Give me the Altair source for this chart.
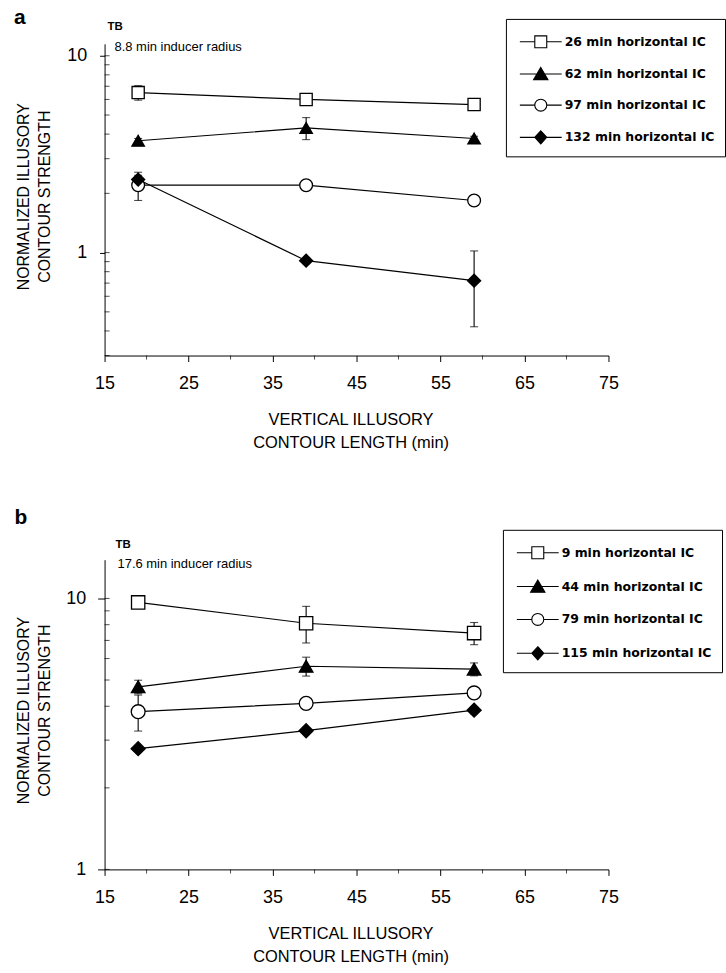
import altair as alt
import pandas as pd

# ---------------- data ----------------
x_len = [19, 39, 59]

a_names = ["26 min horizontal IC", "62 min horizontal IC", "97 min horizontal IC", "132 min horizontal IC"]
a_26 = [6.5, 6.0, 5.65]
a_62 = [3.7, 4.3, 3.8]
a_97 = [2.2, 2.2, 1.84]
a_132 = [2.35, 0.91, 0.72]
a_26_err = [0.55, 0.15, 0.3]
a_62_err = [0.1, 0.55, 0.1]
a_97_err = [0.36, 0.12, 0.1]
a_132_err = [0.12, 0.03, 0.3]

b_names = ["9 min horizontal IC", "44 min horizontal IC", "79 min horizontal IC", "115 min horizontal IC"]
b_9 = [9.67, 8.1, 7.45]
b_44 = [4.72, 5.62, 5.48]
b_79 = [3.82, 4.1, 4.48]
b_115 = [2.79, 3.25, 3.87]
b_9_err = [0.1, 1.25, 0.7]
b_44_err = [0.27, 0.45, 0.3]
b_79_err = [0.58, 0.2, 0.2]
b_115_err = [0.05, 0.05, 0.12]

x_ticks_major = [15, 25, 35, 45, 55, 65, 75]
x_ticks_minor = [20, 30, 40, 50, 60, 70]
a_y_major = [1, 10]
a_y_minor = [0.3, 0.4, 0.5, 0.6, 0.7, 0.8, 0.9, 1, 2, 3, 4, 5, 6, 7, 8, 9, 10]
b_y_major = [1, 10]
b_y_minor = [1, 2, 3, 4, 5, 6, 7, 8, 9, 10]

x_title = ["VERTICAL ILLUSORY", "CONTOUR LENGTH  (min)"]
y_title = ["NORMALIZED ILLUSORY", "CONTOUR STRENGTH"]
a_notes = ["a", "TB", "8.8 min inducer radius"]
b_notes = ["b", "TB", "17.6 min inducer radius"]

shapes = ["square", "triangle-up", "circle", "diamond"]
fills = ["white", "black", "white", "black"]
strokes = ["black", "black", "black", "black"]
sizes = [150, 200, 165, 160]
legend_paths = [
    "M-1.75,0H-0.5M0.5,0H1.75M-0.5,-0.5H0.5V0.5H-0.5Z",
    "M-1.75,0H1.75M0,-0.55L0.6,0.47L-0.6,0.47Z",
    "M-1.75,0H-0.5M0.5,0H1.75M-0.5,0A0.5,0.5,0,1,0,0.5,0A0.5,0.5,0,1,0,-0.5,0Z",
    "M-1.75,0H1.75M0,-0.55L0.5,0L0,0.55L-0.5,0Z",
]


def frame(names, vals, errs):
    rows = []
    for n, v, e in zip(names, vals, errs):
        for xi, vi, ei in zip(x_len, v, e):
            rows.append({"series": n, "x": xi, "y": vi, "lo": vi - ei, "hi": vi + ei})
    return pd.DataFrame(rows)


df_a = frame(a_names, [a_26, a_62, a_97, a_132], [a_26_err, a_62_err, a_97_err, a_132_err])
df_b = frame(b_names, [b_9, b_44, b_79, b_115], [b_9_err, b_44_err, b_79_err, b_115_err])

W = 506


def txt(s, x, y, size, weight="normal", font="Liberation Sans", align="left"):
    return alt.Chart(pd.DataFrame({"t": [s]})).mark_text(
        align=align, baseline="alphabetic", fontSize=size, fontWeight=weight,
        font=font, color="black"
    ).encode(x=alt.value(x), y=alt.value(y), text="t:N")


def panel(df, names, notes, ydom, ymaj, ymin, H, p):
    xs = alt.Scale(domain=[15, 75], nice=False, zero=False)
    ys = alt.Scale(type="log", domain=ydom, nice=False)
    xax = alt.Axis(values=x_ticks_major, tickSize=6, labelFontSize=18, labelPadding=13,
                   labelFlush=False, labelOverlap=False, title=x_title, titleFontSize=16.5,
                   titleFontWeight="normal", titleX=247, titleY=56, titleBaseline="top",
                   titleAlign="center", titleLineHeight=23, grid=False)
    yax = alt.Axis(values=ymaj, format="d", tickSize=p["ytick"], labelFontSize=18,
                   labelPadding=p["ylabpad"], labelFlush=False, labelOverlap=False,
                   title=y_title, titleFontSize=16, titleFontWeight="normal", titleAngle=270,
                   titleX=-89, titleY=p["ytitle"], titleBaseline="top", titleAlign="center",
                   titleLineHeight=21, grid=False)
    X = alt.X("x:Q", scale=xs, axis=xax)
    base = alt.Chart(df)

    bars = base.transform_filter("datum.hi - datum.lo > 0.001").mark_rule(
        color="black", strokeWidth=1.1).encode(
        x=X, y=alt.Y("lo:Q", scale=ys, axis=yax), y2="hi:Q")
    caps = base.transform_filter("datum.hi - datum.lo > 0.001").transform_fold(
        ["lo", "hi"], as_=["end", "val"]).mark_tick(
        color="black", orient="horizontal", size=8, thickness=1.1).encode(
        x=X, y=alt.Y("val:Q", scale=ys, axis=yax))
    line = base.mark_line(color="black", strokeWidth=1.2).encode(
        x=X, y=alt.Y("y:Q", scale=ys, axis=yax), detail="series:N")
    pts = base.mark_point(opacity=1, stroke="black", strokeWidth=1.3, filled=False).encode(
        x=X, y=alt.Y("y:Q", scale=ys, axis=yax),
        shape=alt.Shape("series:N", scale=alt.Scale(domain=names, range=shapes), legend=None),
        fill=alt.Fill("series:N", scale=alt.Scale(domain=names, range=fills), legend=None),
        size=alt.Size("series:N", scale=alt.Scale(domain=names, range=sizes), legend=None),
    )
    leg = alt.Legend(orient="none", legendX=p["lx"], legendY=p["ly"], title=None, padding=10,
                     rowPadding=p["rowpad"], strokeColor="black", fillColor="white",
                     labelFont="DejaVu Sans", labelFontSize=12.5, labelFontWeight="bold",
                     labelColor="black", labelOffset=11, symbolSize=576, symbolOffset=12,
                     symbolOpacity=1, symbolStrokeColor="black", symbolStrokeWidth=1.1,
                     labelLimit=400)
    legpts = base.transform_filter("datum.x < 0").mark_point(
        opacity=1, filled=False, strokeWidth=1.1).encode(
        x=X, y=alt.Y("y:Q", scale=ys, axis=yax),
        shape=alt.Shape("series:N", scale=alt.Scale(domain=names, range=legend_paths), legend=leg),
        fill=alt.Fill("series:N", scale=alt.Scale(domain=names, range=fills), legend=leg),
        stroke=alt.Stroke("series:N", scale=alt.Scale(domain=names, range=strokes), legend=leg),
    )
    yminor = alt.Chart(pd.DataFrame({"v": ymin})).mark_tick(
        color="black", orient="horizontal", size=5, thickness=1).encode(
        y=alt.Y("v:Q", scale=ys, axis=yax), x=alt.value(2.5))
    xminor = alt.Chart(pd.DataFrame({"v": x_ticks_minor})).mark_tick(
        color="black", orient="vertical", size=4, thickness=1).encode(
        x=alt.X("v:Q", scale=xs, axis=xax), y=alt.value(H + 2))
    texts = [
        txt(notes[0], p["letter"][0], p["letter"][1], 21, "bold", align="center"),
        txt(notes[1], p["tb"][0], p["tb"][1], 11.5, "bold"),
        txt(notes[2], p["sub"][0], p["sub"][1], 13),
    ]
    return alt.layer(bars, caps, line, pts, legpts, yminor, xminor, *texts).resolve_scale(
        shape="independent", fill="independent", stroke="independent").properties(width=W, height=H)


pa = panel(df_a, a_names, a_notes, [0.3, 11.5], a_y_major, a_y_minor, 313,
           dict(ytick=5, ylabpad=13, ytitle=153, lx=403, ly=-25, rowpad=10.3,
                letter=(-85, -20), tb=(3, -14), sub=(10, 7)))
pb = panel(df_b, b_names, b_notes, [1, 13.9], b_y_major, b_y_minor, 311,
           dict(ytick=7, ylabpad=12, ytitle=151, lx=400, ly=-30, rowpad=12,
                letter=(-84, -36), tb=(11, -12), sub=(13, 8)))

chart = alt.vconcat(pa, pb, spacing=205).properties(
    bounds="flush", padding={"left": 14, "top": 5, "right": 0, "bottom": 0},
    background="white"
).configure_view(stroke=None).configure_axis(
    domainColor="black", tickColor="black", labelColor="black", titleColor="black",
    labelFont="Liberation Sans", titleFont="Liberation Sans", domainWidth=1, tickWidth=1
)

chart.save("out.html", embed_options={"renderer": "svg", "actions": False})
